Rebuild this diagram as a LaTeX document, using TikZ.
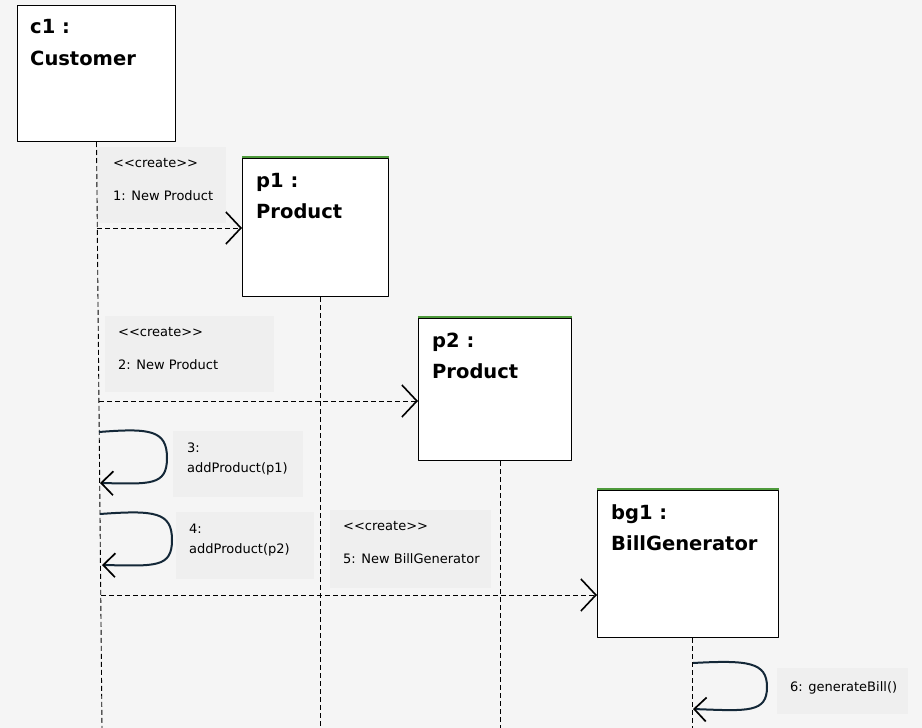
\documentclass[tikz,border=0pt]{standalone}
\usepackage{fontspec}
\setmainfont{DejaVu Sans}[Ligatures=TeXOff]
\usetikzlibrary{arrows.meta}

\definecolor{bgcol}{HTML}{F5F5F5}
\definecolor{notecol}{HTML}{EFEFEF}
\definecolor{loopcol}{HTML}{142838}
\definecolor{topgreen}{HTML}{4E9A3C}

\newcommand{\stereo}[1]{<\kern0pt<#1>\kern0pt>}

\begin{document}
\begin{tikzpicture}[x=1pt,y=-1pt,line join=round,
  objbox/.style={draw=black,fill=white,line width=1pt,anchor=north west,inner sep=0pt},
  notebox/.style={fill=notecol,anchor=north west,inner sep=0pt},
  headtxt/.style={anchor=base west,inner sep=0pt,font=\fontsize{19.5}{22}\selectfont\bfseries},
  msgtxt/.style={anchor=base west,inner sep=0pt,font=\fontsize{13}{15}\selectfont},
  lifeline/.style={line width=0.9pt,dash pattern=on 5pt off 3pt},
  createmsg/.style={line width=0.9pt,dash pattern=on 5pt off 3pt,-{Straight Barb[length=15pt,width=32pt,line width=1.6pt]}},
  selfcall/.style={draw=loopcol,line width=2pt,-{Straight Barb[length=12pt,width=24pt,line width=1.7pt,color=black]}},
  greenedge/.style={draw=topgreen,line width=1.2pt}]
\useasboundingbox (0,0) rectangle (922,728);
\fill[bgcol] (0,0) rectangle (922,728);
% message labels
\node[notebox,minimum width=129pt,minimum height=76pt] (n1) at (97,147) {};
\node[notebox,minimum width=169pt,minimum height=76pt] (n2) at (105,316) {};
\node[notebox,minimum width=130pt,minimum height=66pt] (n3) at (173,431) {};
\node[notebox,minimum width=138pt,minimum height=67pt] (n4) at (176,512) {};
\node[notebox,minimum width=161pt,minimum height=78pt] (n5) at (330,510) {};
\node[notebox,minimum width=131pt,minimum height=46pt] (n6) at (777,668) {};
\node[msgtxt] (n1a) at (113,167) {\stereo{create}};
\node[msgtxt] (n1b) at (113,200) {1: New Product};
\node[msgtxt] (n2a) at (118,336) {\stereo{create}};
\node[msgtxt] (n2b) at (118,369) {2: New Product};
\node[msgtxt] (n3a) at (187,452) {3:};
\node[msgtxt] (n3b) at (187,472) {addProduct(p1)};
\node[msgtxt] (n4a) at (189,533) {4:};
\node[msgtxt] (n4b) at (189,553) {addProduct(p2)};
\node[msgtxt] (n5a) at (343,530) {\stereo{create}};
\node[msgtxt] (n5b) at (343,563) {5: New BillGenerator};
\node[msgtxt] (n6a) at (790,691) {6: generateBill()};
% objects
\node[objbox,minimum width=158pt,minimum height=136pt] (c1) at (17,5) {};
\node[objbox,minimum width=146pt,minimum height=138pt] (p1) at (242,158) {};
\node[objbox,minimum width=153pt,minimum height=142pt] (p2) at (418,318) {};
\node[objbox,minimum width=181pt,minimum height=147pt] (bg1) at (597,490) {};
\draw[greenedge] ([yshift=1pt]p1.north west) -- ([yshift=1pt]p1.north east);
\draw[greenedge] ([yshift=1pt]p2.north west) -- ([yshift=1pt]p2.north east);
\draw[greenedge] ([yshift=1pt]bg1.north west) -- ([yshift=1pt]bg1.north east);
\node[headtxt] (c1a) at (30,34) {c1 :};
\node[headtxt] (c1b) at (30,65) {Customer};
\node[headtxt] (p1a) at (256,187) {p1 :};
\node[headtxt] (p1b) at (256,218) {Product};
\node[headtxt] (p2a) at (432,347) {p2 :};
\node[headtxt] (p2b) at (432,378) {Product};
\node[headtxt] (bg1a) at (611,519) {bg1 :};
\node[headtxt] (bg1b) at (611,550) {BillGenerator};
% lifelines
\coordinate (c1end) at (102,728);
\coordinate (p1end) at (320,728);
\coordinate (p2end) at (500,728);
\coordinate (bg1end) at (692,728);
\draw[lifeline] (c1.south) -- (c1end);
\draw[lifeline] (p1.south -| p1end) -- (p1end);
\draw[lifeline] (p2.south -| p2end) -- (p2end);
\draw[lifeline] (bg1.south -| bg1end) -- (bg1end);
% create messages
\coordinate (m1s) at (97,228);
\coordinate (m2s) at (99,401);
\coordinate (m5s) at (101,595);
\draw[createmsg] (m1s) -- (p1.west |- m1s);
\draw[createmsg] (m2s) -- (p2.west |- m2s);
\draw[createmsg] (m5s) -- (bg1.west |- m5s);
% self calls
\coordinate (m3s) at (99,432);
\coordinate (m3e) at (100,483);
\coordinate (m4s) at (100,514);
\coordinate (m4e) at (102,565);
\coordinate (m6s) at (693,663);
\coordinate (m6e) at (693,709);
\draw[selfcall] (m3s) .. controls (150,428) and (167,430) .. (167,458) .. controls (167,486) and (150,484) .. (m3e);
\draw[selfcall] (m4s) .. controls (155,510) and (172,512) .. (172,540) .. controls (172,568) and (155,566) .. (m4e);
\draw[selfcall] (m6s) .. controls (748,660) and (767,662) .. (767,687) .. controls (767,713) and (748,711) .. (m6e);
\end{tikzpicture}
\end{document}
